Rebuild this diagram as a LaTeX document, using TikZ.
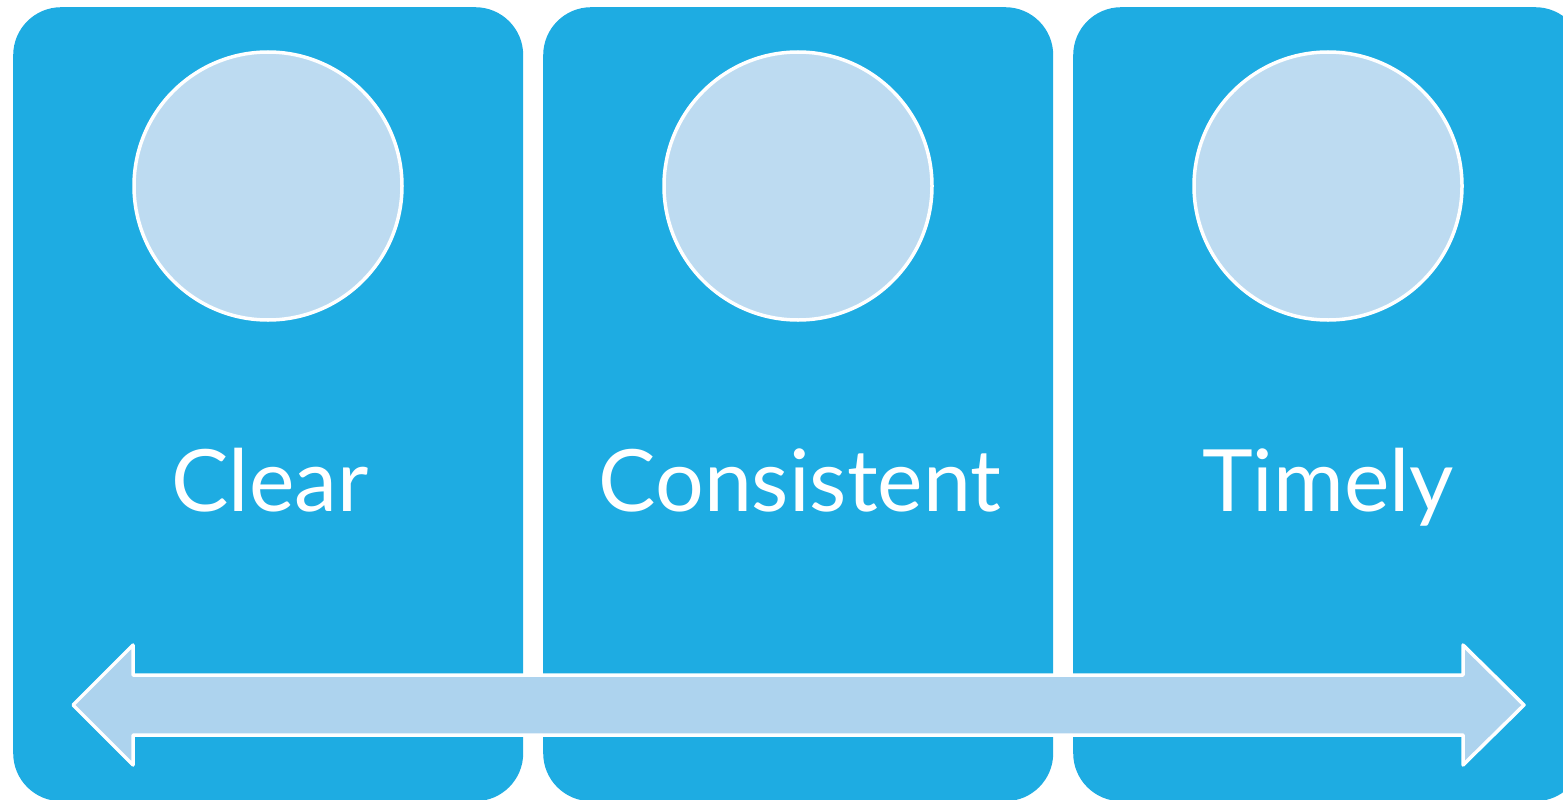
\documentclass[tikz,border=0pt]{standalone}
\usepackage{fontspec}
\setmainfont{Lato}
\definecolor{boxblue}{RGB}{30,172,226}
\definecolor{circfill}{RGB}{189,219,241}
\definecolor{arrowfill}{RGB}{173,211,238}
\begin{document}
\begin{tikzpicture}[x=1pt,y=-1pt,
  panel/.style={fill=boxblue, draw=none, rounded corners=48pt, minimum width=510pt, minimum height=794pt, inner sep=0pt, anchor=north west},
  disc/.style={circle, fill=circfill, draw=white, line width=3.5pt, minimum size=268pt, inner sep=0pt},
  label/.style={text=white, font=\fontsize{86}{90}\selectfont, anchor=base, inner sep=0pt},
  arrowshape/.style={fill=arrowfill, draw=white, line width=3.5pt, line join=round}
]
\useasboundingbox (0,0) rectangle (1563,800);
\clip (0,0) rectangle (1563,800);
\fill[white] (0,0) rectangle (1563,800);
\node[panel] (p1) at (13,7) {};
\node[panel] (p2) at (543,7) {};
\node[panel] (p3) at (1073,7) {};
\node[disc] (c1) at (268,186) {};
\node[disc] (c2) at (798,186) {};
\node[disc] (c3) at (1328,186) {};
\node[label] (t1) at (270,511) {Clear};
\node[label] (t2) at (800,511) {Consistent};
\node[label] (t3) at (1328,511) {Timely};
\coordinate (lt) at (73,705);
\coordinate (rt) at (1524,705);
\draw[arrowshape] (lt) -- (133,645) -- (133,675) -- (1463,675) -- (1463,645) -- (rt)
  -- (1463,765) -- (1463,735) -- (133,735) -- (133,765) -- cycle;
\end{tikzpicture}
\end{document}
